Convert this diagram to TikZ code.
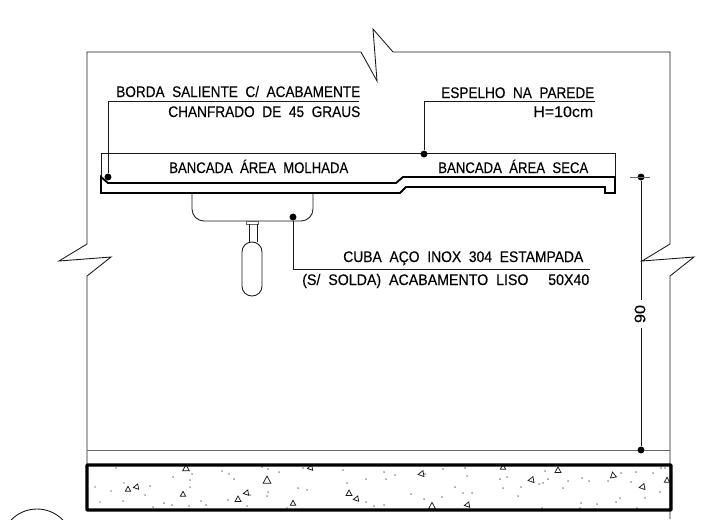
\documentclass[tikz,border=0pt]{standalone}
\usepackage{fontspec}
\usepackage{graphicx}
\setmainfont[FakeBold=0.25]{Liberation Sans}
\tikzset{
  x=0.75pt,y=-0.75pt,
  thin line/.style={line width=0.65pt,black!90},
  grey line/.style={line width=0.7pt,black!60},
  heavy line/.style={line width=1.4pt,black,line join=miter},
  slab line/.style={line width=2.5pt,black,rounded corners=0.6pt},
  lead/.style={line width=0.7pt,black!90},
  leaddot/.style={circle,fill=black,inner sep=0pt,minimum size=5.2pt},
  lab/.style={anchor=base west,inner sep=0pt,font=\fontsize{11.5}{12}\selectfont},
  grain/.style={line width=0.55pt,black!90},
  speck/.style={fill=black}
}
\newcommand{\fitw}[2]{\resizebox{#1\dimexpr0.75pt\relax}{\height}{#2}}
\begin{document}
\begin{tikzpicture}
\useasboundingbox (0,0) rectangle (702,519);
% wall with break lines
\draw[thin line] (87,465) -- (87,276) -- (111,257) -- (59,261) -- (87,244) -- (87,52) -- (361,52) -- (377,81) -- (373,29) -- (393,52) -- (670,52) -- (670,244) -- (642,261) -- (694,257) -- (670,276) -- (670,519);
% floor line
\draw[grey line] (87,450) -- (670,450);
% counter
\draw[thin line] (101,177) -- (101,153) -- (615,153) -- (615,177);
\draw[heavy line] (101,177) -- (108,183) -- (396,183) -- (403,177) -- (615,177) -- (615,193) -- (605,193) -- (605,187) -- (406,187) -- (400,193) -- (101,193) -- cycle;
% sink
\draw[thin line,rounded corners=9pt] (192,193) -- (192,221) -- (313,221) -- (313,193);
\draw[grey line] (246,221) rectangle (258,224);
\draw[thin line] (249,224) -- (249,242) (257,224) -- (257,242);
\draw[thin line,rounded corners=7.4pt] (242,296) rectangle (262,242);
% concrete
\foreach \x/\y in {116/468,95/487,111/491,100/502,123/501,124/483,150/486,145/495,153/507,164/503,172/505,173/477,192/474,190/480,190/487,189/506,201/501,206/505,222/471,229/474,234/479,228/500,250/495,247/506,268/469,279/472,268/492,267/496,262/467,298/488,307/490,303/468,287/508,343/470,347/483,366/479,384/472,386/479,395/475,366/502,374/506,384/505,425/474,443/469,465/468,467/476,455/487,463/493,472/493,411/494,424/499,442/497,500/479,507/477,503/488,521/487,518/496,545/471,548/479,543/483,539/484,568/481,563/488,582/478,589/481,608/481,621/473,636/472,631/482,653/473,645/498,660/492,661/468,665/468,620/498,616/502,581/503,597/504,542/508,580/508,637/508}
  \fill[speck] (\x,\y) circle (0.55pt);
\foreach \x/\y/\r/\s in {186/468/0/1.1,128/489/0/0.9,136/487/100/0.9,183/494/0/0.9,267/480/0/1.3,238/499/0/1,246/493/100/0.9,293/503/0/0.9,310/468/100/0.9,349/493/0/1,356/499/100/0.9,421/474/100/1,432/506/0/1.2,467/505/100/0.9,503/467/0/0.9,531/480/100/1,558/470/0/1,613/475/10/1,642/487/100/1,667/480/0/0.9}
  \draw[grain,shift={(\x,\y)},rotate=\r,scale=\s] (0,-3) -- (3,2.5) -- (-3,2.5) -- cycle;
\draw[slab line] (87,465) rectangle (671,510);
% leaders
\node[leaddot] (dBorda) at (108,177) {};
\coordinate (eBorda) at (108,101);
\coordinate (fBorda) at (359,101);
\draw[lead] (dBorda) -- (eBorda) -- (fBorda);
\node[leaddot] (dEsp) at (424,154) {};
\coordinate (eEsp) at (424,101);
\coordinate (fEsp) at (595,101);
\draw[lead] (dEsp) -- (eEsp) -- (fEsp);
\node[leaddot] (dCuba) at (293,217) {};
\coordinate (eCuba) at (293,269);
\coordinate (fCuba) at (590,269);
\draw[lead] (dCuba) -- (eCuba) -- (fCuba);
% dimension
\node[leaddot] (dTop) at (641,177) {};
\node[leaddot] (dBot) at (641,450) {};
\node[rotate=90,inner sep=0pt,font=\fontsize{11.5}{12}\selectfont] (dimText) at (640,314) {\fitw{18}{90}};
\draw[lead] (dTop) -- (641,300) (641,328) -- (dBot);
\draw[grey line] (630,177) -- (650,177);
% labels
\node[lab] (t1) at (116,97) {\fitw{244}{BORDA\ \ SALIENTE\ \ C/\ \ ACABAMENTE}};
\node[lab] (t2) at (168,117) {\fitw{192}{CHANFRADO\ \ DE\ \ 45\ \ GRAUS}};
\node[lab] (t3) at (441,98) {\fitw{153}{ESPELHO\ \ NA\ \ PAREDE}};
\node[lab] (t4) at (533,117) {\fitw{60}{H=10cm}};
\node[lab] (t5) at (169,173) {\fitw{179}{BANCADA\ \ ÁREA\ \ MOLHADA}};
\node[lab] (t6) at (438,173) {\fitw{150}{BANCADA\ \ ÁREA\ \ SECA}};
\node[lab] (t7) at (343,262) {\fitw{240}{CUBA\ \ AÇO\ \ INOX\ \ 304\ \ ESTAMPADA}};
\node[lab] (t8) at (302,285) {\fitw{287}{(S/\ \ SOLDA)\ \ ACABAMENTO\ \ LISO\ \ \ \ \ 50X40}};
% detail bubble cut by the sheet edge
\begin{scope}
\clip (0,0) rectangle (702,519);
\draw[thin line] (37,545) circle (36);
\end{scope}
\end{tikzpicture}
\end{document}
